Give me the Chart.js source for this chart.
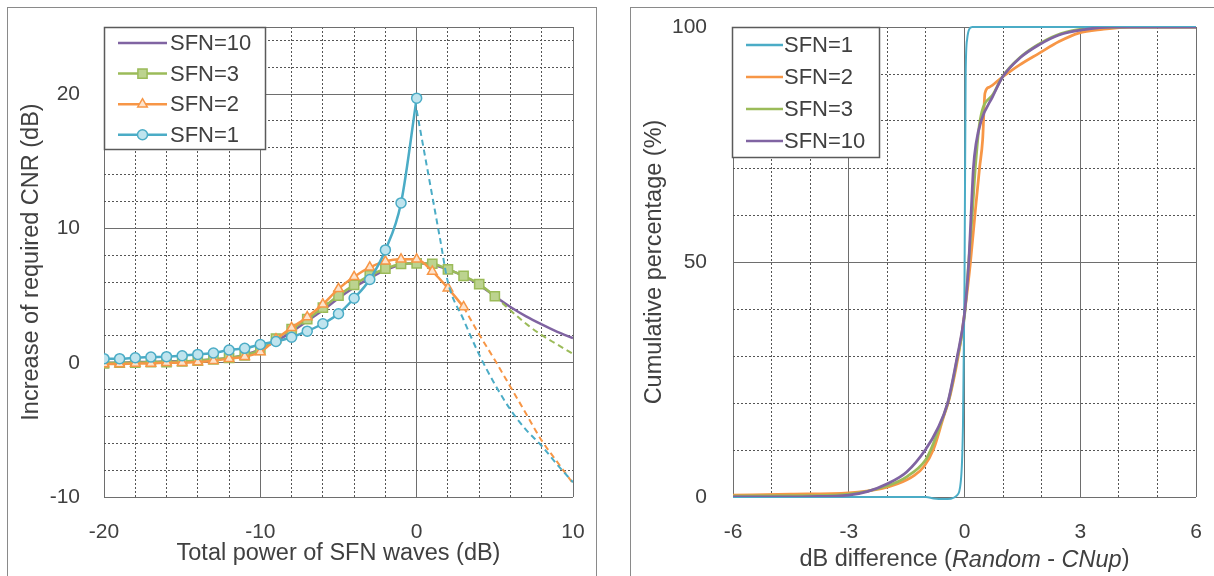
<!DOCTYPE html>
<html>
<head>
<meta charset="utf-8">
<script src="https://cdn.jsdelivr.net/npm/chart.js@4.4.0/dist/chart.umd.min.js"></script>
<style>
  html, body { margin: 0; padding: 0; background: #fff; }
  body { width: 1214px; height: 576px; position: relative; overflow: hidden; }
  canvas { position: absolute; top: 0; }
  #cnrChart { left: 0; }
  #cdfChart { left: 600px; }
  .panel { position: absolute; border: 1.5px solid #8a8a8a; box-sizing: border-box; pointer-events: none; }
  #leftPanel { left: 7px; top: 7px; width: 590px; height: 620px; }
  #rightPanel { left: 630px; top: 7px; width: 640px; height: 620px; }
</style>
</head>
<body>
<canvas id="cnrChart" width="600" height="576"></canvas>
<canvas id="cdfChart" width="614" height="576"></canvas>
<div class="panel" id="leftPanel"></div>
<div class="panel" id="rightPanel"></div>
<script>
    'use strict';

    var FONT = "'Liberation Sans', Arial, sans-serif";
    var TEXT = '#404040';
    var BLUE = '#4bacc6', ORANGE = '#f79646', GREEN = '#9bbb59', PURPLE = '#8064a2';

    // ---- Left chart: increase of required CNR vs total power of SFN waves
    var powerDb = [-20,-19,-18,-17,-16,-15,-14,-13,-12,-11,-10,-9,-8,-7,-6,-5,-4,-3,-2,-1,0,1,2,3,4,5,6,7,8,9,10];
    // values start at -20 dB, one per dB
    var sfn10Cnr = [0.0,0.0,0.05,0.05,0.1,0.1,0.15,0.25,0.35,0.6,1.0,1.6,2.3,3.1,3.9,4.8,5.6,6.3,6.9,7.3,7.4,7.3,6.95,6.45,5.8,4.95,4.15,3.45,2.85,2.3,1.83];
    var sfn3Cnr = [-0.05,0.0,0.0,0.05,0.05,0.1,0.15,0.25,0.35,0.55,0.95,1.8,2.5,3.25,4.1,5.0,5.8,6.5,7.0,7.35,7.4,7.37,6.95,6.46,5.85,4.95];
    var sfn2Cnr = [-0.1,-0.1,-0.05,-0.05,0.0,0.0,0.05,0.15,0.3,0.45,0.8,1.75,2.6,3.4,4.35,5.5,6.4,7.1,7.55,7.7,7.7,6.8,5.55,4.15];
    var sfn1Cnr = [0.3,0.3,0.37,0.42,0.45,0.52,0.62,0.72,0.95,1.07,1.36,1.58,1.9,2.35,2.9,3.65,4.8,6.2,8.4,11.9,19.7];
    // dashed continuations
    var sfn3DashX = [5,6,7,8,9,10];
    var sfn3DashY = [4.95,3.9,2.9,2.05,1.35,0.66];
    var sfn2DashX = [3,4,5,6,7,8,9,10];
    var sfn2DashY = [4.15,2.1,0.2,-1.8,-3.8,-5.8,-7.4,-9.0];
    var sfn1DashX = [0,0.5,1,1.5,2,3,4,5,6,7,8,9,10];
    var sfn1DashY = [18.8,15.6,12.4,9.2,6.0,3.2,0.6,-1.6,-3.5,-5.0,-6.2,-7.6,-8.9];

    var cnrXLabels = [-20,-10,0,10];
    var cnrYLabels = [-10,0,10,20];

    // ---- Right chart: cumulative percentage of dB difference
    var cdfSfn1X = [-6,-1,-0.8,-0.55,-0.35,-0.2,-0.1,-0.04,0,0.03,0.07,0.12,0.2,6];
    var cdfSfn1Y = [0,0,-0.3,-0.45,-0.35,0.3,3,15,45,90,97.5,99.5,100,100];
    var cdfSfn2X = [-6,-4.5,-3,-2.15,-1.73,-1.3,-1.05,-0.8,-0.57,-0.36,-0.1,0,0.15,0.27,0.39,0.47,0.53,0.64,0.94,1.42,1.93,2.45,2.96,3.57,4.3,6];
    var cdfSfn2Y = [0.4,0.6,0.9,1.8,2.8,4.6,6.5,10.2,16.3,22,33,39,49.6,60,70,76,85.9,87.2,89.1,91.9,94.4,96.9,98.7,99.5,100,100];
    var cdfSfn3X = [-6,-4,-3,-2,-1.5,-1.0,-0.85,-0.6,-0.4,-0.2,0,0.1,0.2,0.28,0.4,0.75,1.0,1.45,2,2.5,3.2,4,6];
    var cdfSfn3Y = [0.2,0.3,0.6,2.4,4.3,8.0,10.5,16,21,29,38.5,49,60,70,80,85.8,89.6,93.6,96.7,98.6,99.7,100,100];
    var cdfSfn10X = [-6,-4,-3,-2.5,-2,-1.5,-1.0,-0.7,-0.44,-0.19,0,0.11,0.17,0.23,0.3,0.43,0.73,0.99,1.42,1.93,2.45,3.14,3.8,6];
    var cdfSfn10Y = [0,0.1,0.4,1.2,2.8,5.3,10.2,14.5,19.9,29.8,39,49.9,60,70,75.2,80,85.2,89.4,93.3,96.2,98.3,99.5,100,100];

    var cdfXLabels = [-6,-3,0,3,6];
    var cdfYLabels = [0,50,100];

    // Helpers
    function range(from, to, step){
        var out = [];
        for(var v = from; v <= to + 1e-9; v += step){ out.push(Math.round(v * 100) / 100); }
        return out;
    }

    function toPoints(xs, ys){
        return ys.map(function(y, i){ return {x: xs[i], y: y}; });
    }

    function _lineSet(label, points, color, extra){
        var ds = {
            label: label,
            data: points,
            borderColor: color,
            backgroundColor: color,
            borderWidth: 2.5,
            pointRadius: 0,
            cubicInterpolationMode: 'monotone',
            fill: false
        };
        for(var k in extra){ ds[k] = extra[k]; }
        return ds;
    }

    // Axis builder: solid major grid lines, dotted minor ones
    function _axis(tickValues, labels, isMajor, size, extra){
        var axis = {
            type: 'linear',
            min: tickValues[0],
            max: tickValues[tickValues.length - 1],
            afterBuildTicks: function(scale){
                scale.ticks = tickValues.map(function(v){ return {value: v}; });
            },
            afterFit: function(scale){
                if(scale.isHorizontal()){ scale.height = size; } else { scale.width = size; }
                // no extra room for the edge labels, the layout padding handles it
                scale.paddingTop = scale.paddingBottom = scale.paddingLeft = scale.paddingRight = 0;
            },
            grid: {
                drawTicks: false,
                color: function(c){ return (c.tick && isMajor(c.tick.value)) ? '#6e6e6e' : '#555555'; },
                lineWidth: 1
            },
            border: {
                display: false,
                dash: function(c){ return (c.tick && !isMajor(c.tick.value)) ? [2, 2] : []; }
            },
            ticks: {
                autoSkip: false,
                maxRotation: 0,
                color: TEXT,
                font: {family: FONT, size: 21},
                callback: function(v){ return labels.indexOf(v) >= 0 ? String(v) : ''; }
            }
        };
        for(var k in extra){ axis[k] = extra[k]; }
        return axis;
    }

    function _mergeTicks(axis, more){
        for(var k in more){ axis.ticks[k] = more[k]; }
        return axis;
    }

    // Boxed legend drawn inside the plot area
    var boxLegend = {
        id: 'boxLegend',
        afterDatasetsDraw: function(chart, args, opts){
            var ctx = chart.ctx, a = chart.chartArea;
            var x0 = Math.round(a.left) + opts.dx, y0 = Math.round(a.top);
            ctx.save();
            ctx.fillStyle = '#fff';
            ctx.fillRect(x0, y0, opts.width, opts.height);
            ctx.strokeStyle = '#5a5a5a';
            ctx.lineWidth = 1.5;
            ctx.strokeRect(x0 + 0.5, y0 + 0.5, opts.width, opts.height);
            opts.items.forEach(function(it, i){
                var y = y0 + opts.firstRow + i * opts.rowGap;
                ctx.strokeStyle = it.color;
                ctx.lineWidth = opts.lineWidth;
                ctx.setLineDash([]);
                ctx.beginPath();
                ctx.moveTo(x0 + opts.lineFrom, y);
                ctx.lineTo(x0 + opts.lineTo, y);
                ctx.stroke();
                if(it.marker){
                    ctx.fillStyle = it.fill;
                    ctx.lineWidth = 1.5;
                    Chart.helpers.drawPoint(ctx, {pointStyle: it.marker, radius: it.radius, rotation: 0, borderWidth: 1.5},
                        x0 + (opts.lineFrom + opts.lineTo) / 2, y);
                }
                ctx.fillStyle = TEXT;
                ctx.font = opts.fontSize + 'px ' + FONT;
                ctx.textBaseline = 'middle';
                ctx.textAlign = 'left';
                ctx.fillText(it.label, x0 + opts.textX, y + 1);
            });
            ctx.restore();
        }
    };

    // X title with italic words for the right chart
    var mixedTitle = {
        id: 'mixedTitle',
        afterDraw: function(chart, args, opts){
            var ctx = chart.ctx, a = chart.chartArea;
            ctx.save();
            ctx.fillStyle = TEXT;
            ctx.textBaseline = 'middle';
            ctx.textAlign = 'left';
            var total = 0;
            opts.parts.forEach(function(p){
                ctx.font = (p.italic ? 'italic ' : '') + opts.size + 'px ' + FONT;
                p.w = ctx.measureText(p.text).width;
                total += p.w;
            });
            var x = (a.left + a.right) / 2 - total / 2;
            opts.parts.forEach(function(p){
                ctx.font = (p.italic ? 'italic ' : '') + opts.size + 'px ' + FONT;
                ctx.fillText(p.text, x, opts.y);
                x += p.w;
            });
            ctx.restore();
        }
    };

    var TITLE_SIZE = 23.5;

    // ---- Left chart
    var cnrX = _axis(range(-20, 10, 2), cnrXLabels, function(v){ return v % 10 === 0; }, 79, {
        position: 'bottom',
        title: {display: true, text: 'Total power of SFN waves (dB)', color: TEXT,
                font: {family: FONT, size: TITLE_SIZE}, padding: {top: 0, bottom: 8}}
    });
    _mergeTicks(cnrX, {padding: 23});
    var cnrY = _axis(range(-10, 24, 2).concat([25]), cnrYLabels, function(v){ return v % 10 === 0 || v === 25; }, 104, {
        position: 'left',
        title: {display: true, text: 'Increase of required CNR (dB)', color: TEXT,
                font: {family: FONT, size: TITLE_SIZE}, padding: {top: 17, bottom: 0}}
    });
    _mergeTicks(cnrY, {padding: 24});

    var dash = [6, 4];
    new Chart(document.getElementById('cnrChart'), {
        type: 'line',
        data: {
            datasets: [
                _lineSet('SFN=1', toPoints(powerDb, sfn1Cnr), BLUE, {order: 1, pointStyle: 'circle', pointRadius: 5,
                    pointBackgroundColor: '#bfe4ee', pointBorderColor: BLUE, pointBorderWidth: 1.5}),
                _lineSet('', toPoints(sfn1DashX, sfn1DashY), BLUE, {order: 1, borderWidth: 2, borderDash: dash}),
                _lineSet('SFN=2', toPoints(powerDb, sfn2Cnr), ORANGE, {order: 2, pointStyle: 'triangle', pointRadius: 5.5,
                    pointBackgroundColor: '#fde3cc', pointBorderColor: ORANGE, pointBorderWidth: 1.5}),
                _lineSet('', toPoints(sfn2DashX, sfn2DashY), ORANGE, {order: 2, borderWidth: 2, borderDash: dash}),
                _lineSet('SFN=3', toPoints(powerDb, sfn3Cnr), GREEN, {order: 3, pointStyle: 'rect', pointRadius: 6.5,
                    pointBackgroundColor: '#bcd38f', pointBorderColor: GREEN, pointBorderWidth: 1.5}),
                _lineSet('', toPoints(sfn3DashX, sfn3DashY), GREEN, {order: 3, borderWidth: 2, borderDash: dash}),
                _lineSet('SFN=10', toPoints(powerDb, sfn10Cnr), PURPLE, {order: 4})
            ]
        },
        options: {
            responsive: false,
            animation: false,
            layout: {padding: {left: 0, top: 27, right: 27, bottom: 0}},
            scales: {x: cnrX, y: cnrY},
            plugins: {
                legend: {display: false},
                tooltip: {enabled: false},
                boxLegend: {
                    dx: 0, width: 161, height: 122, firstRow: 16, rowGap: 30.6,
                    lineFrom: 14, lineTo: 63, textX: 66, lineWidth: 2.5, fontSize: 22,
                    items: [
                        {label: 'SFN=10', color: PURPLE},
                        {label: 'SFN=3', color: GREEN, marker: 'rect', radius: 6.5, fill: '#bcd38f'},
                        {label: 'SFN=2', color: ORANGE, marker: 'triangle', radius: 5.5, fill: '#fde3cc'},
                        {label: 'SFN=1', color: BLUE, marker: 'circle', radius: 5, fill: '#bfe4ee'}
                    ]
                }
            }
        },
        plugins: [boxLegend]
    });

    // ---- Right chart
    var cdfX = _axis(range(-6, 6, 1), cdfXLabels, function(v){ return v % 3 === 0; }, 79, {
        position: 'bottom',
        title: {display: false}
    });
    _mergeTicks(cdfX, {padding: 23});
    var cdfY = _axis(range(0, 100, 10), cdfYLabels, function(v){ return v % 50 === 0; }, 133, {
        position: 'left',
        title: {display: true, text: 'Cumulative percentage (%)', color: TEXT,
                font: {family: FONT, size: TITLE_SIZE}, padding: {top: 40, bottom: 0}}
    });
    _mergeTicks(cdfY, {padding: 26});

    new Chart(document.getElementById('cdfChart'), {
        type: 'line',
        data: {
            datasets: [
                _lineSet('SFN=10', toPoints(cdfSfn10X, cdfSfn10Y), PURPLE, {order: 1, borderWidth: 2.75}),
                _lineSet('SFN=1', toPoints(cdfSfn1X, cdfSfn1Y), BLUE, {order: 2, borderWidth: 2, clip: 6}),
                _lineSet('SFN=3', toPoints(cdfSfn3X, cdfSfn3Y), GREEN, {order: 3, borderWidth: 2.75}),
                _lineSet('SFN=2', toPoints(cdfSfn2X, cdfSfn2Y), ORANGE, {order: 4, borderWidth: 2.75})
            ]
        },
        options: {
            responsive: false,
            animation: false,
            layout: {padding: {left: 0, top: 27, right: 18, bottom: 0}},
            scales: {x: cdfX, y: cdfY},
            plugins: {
                legend: {display: false},
                tooltip: {enabled: false},
                boxLegend: {
                    dx: -1, width: 147, height: 130, firstRow: 18, rowGap: 32,
                    lineFrom: 14, lineTo: 51, textX: 52, lineWidth: 2.5, fontSize: 22,
                    items: [
                        {label: 'SFN=1', color: BLUE},
                        {label: 'SFN=2', color: ORANGE},
                        {label: 'SFN=3', color: GREEN},
                        {label: 'SFN=10', color: PURPLE}
                    ]
                },
                mixedTitle: {
                    y: 560, size: TITLE_SIZE,
                    parts: [
                        {text: 'dB difference ('},
                        {text: 'Random', italic: true},
                        {text: ' - '},
                        {text: 'CNup', italic: true},
                        {text: ')'}
                    ]
                }
            }
        },
        plugins: [boxLegend, mixedTitle]
    });
</script>
</body>
</html>
